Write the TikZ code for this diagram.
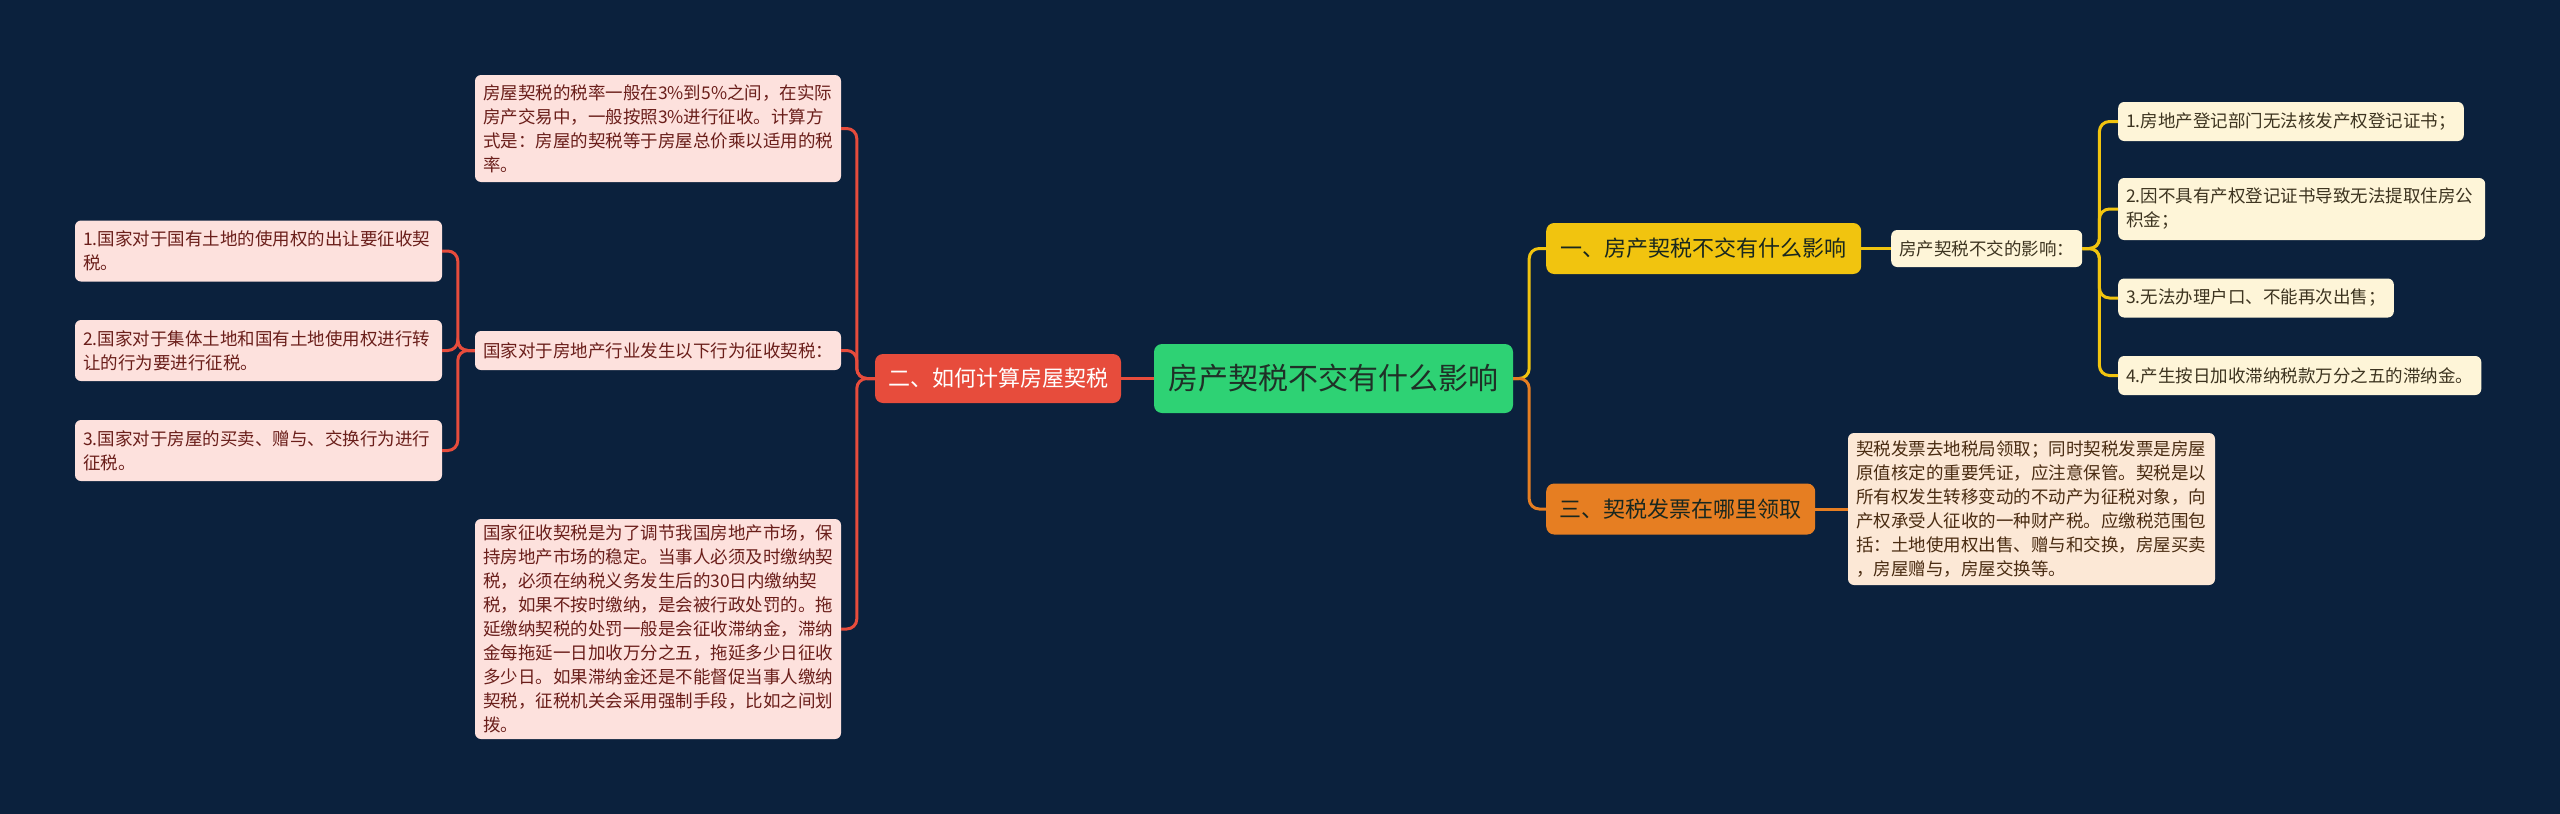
\documentclass[tikz,border=0pt]{standalone}
\usepackage{fontspec}
\newfontfamily\cjk{Noto Sans CJK SC}
\usetikzlibrary{calc}
\definecolor{bg}{HTML}{0B213D}
\definecolor{cgreen}{HTML}{2ED274}
\definecolor{cred}{HTML}{E74C3C}
\definecolor{cyellow}{HTML}{F1C40F}
\definecolor{corange}{HTML}{E67E22}
\definecolor{pinkfill}{HTML}{FDE1DD}
\definecolor{pinktext}{HTML}{6A1E1A}
\definecolor{creamfill}{HTML}{FEF5D8}
\definecolor{creamtext}{HTML}{3D3420}
\definecolor{peachfill}{HTML}{FCE8D6}
\definecolor{peachtext}{HTML}{4A2C12}
\definecolor{darktext}{HTML}{1F3027}
\begin{document}
\begin{tikzpicture}[x=1pt,y=-1pt,
  base/.style={rounded corners=6pt, inner ysep=0pt, inner xsep=8pt, align=left},
  small/.style={font=\cjk\fontsize{17.5}{24}\selectfont},
  pinkbox/.style={base, small, fill=pinkfill, text=pinktext},
  creambox/.style={base, small, fill=creamfill, text=creamtext, minimum height=39pt},
  peachbox/.style={base, small, fill=peachfill, text=peachtext},
  mainbox/.style={rounded corners=8pt, inner sep=0pt, align=center, font=\cjk\fontsize{22}{26}\selectfont, minimum height=51pt},
  rootbox/.style={rounded corners=8pt, inner sep=0pt, fill=cgreen, text=darktext, font=\cjk\fontsize{30}{34}\selectfont},
  redline/.style={draw=cred, line width=3pt, rounded corners=10pt},
  yline/.style={draw=cyellow, line width=3pt, rounded corners=10pt},
  oline/.style={draw=corange, line width=3pt, rounded corners=10pt}
]
\fill[bg] (0,0) rectangle (2560,814);
\useasboundingbox (0,0) rectangle (2560,814);

% root
\node[rootbox, minimum width=359pt, minimum height=69pt] (root) at (1333.5,378.5) {房产契税不交有什么影响};

% left branch
\node[mainbox, fill=cred, text=white, minimum width=246pt, minimum height=49pt] (two) at (998,378.5) {二、如何计算房屋契税};

\node[pinkbox, text width=350pt, minimum height=107pt] (A) at (658,128.5) {房屋契税的税率一般在3\%到5\%之间，在实际\\房产交易中，一般按照3\%进行征收。计算方\\式是：房屋的契税等于房屋总价乘以适用的税\\率。};
\node[pinkbox, text width=350pt, minimum height=39pt] (B) at (658,350.5) {国家对于房地产行业发生以下行为征收契税：};
\node[pinkbox, text width=350pt, minimum height=220pt] (C) at (658,629) {国家征收契税是为了调节我国房地产市场，保\\持房地产市场的稳定。当事人必须及时缴纳契\\税，必须在纳税义务发生后的30日内缴纳契\\税，如果不按时缴纳，是会被行政处罚的。拖\\延缴纳契税的处罚一般是会征收滞纳金，滞纳\\金每拖延一日加收万分之五，拖延多少日征收\\多少日。如果滞纳金还是不能督促当事人缴纳\\契税，征税机关会采用强制手段，比如之间划\\拨。};

\node[pinkbox, text width=351pt, minimum height=61pt] (L1) at (258.5,251) {1.国家对于国有土地的使用权的出让要征收契\\税。};
\node[pinkbox, text width=351pt, minimum height=61pt] (L2) at (258.5,350.5) {2.国家对于集体土地和国有土地使用权进行转\\让的行为要进行征税。};
\node[pinkbox, text width=351pt, minimum height=61pt] (L3) at (258.5,450.5) {3.国家对于房屋的买卖、赠与、交换行为进行\\征税。};

% right branch
\node[mainbox, fill=cyellow, text=darktext!80!black, minimum width=315pt, anchor=west] (one) at (1546,248.5) {一、房产契税不交有什么影响};
\node[mainbox, fill=corange, text=darktext!80!black, minimum width=269pt, anchor=west] (three) at (1546,509) {三、契税发票在哪里领取};

\node[creambox, anchor=west, minimum height=37pt] (eff) at (1891,248.5) {房产契税不交的影响：};
\node[creambox, anchor=west] (R1) at (2118,121.5) {1.房地产登记部门无法核发产权登记证书；};
\node[creambox, text width=351pt, minimum height=62pt, anchor=west] (R2) at (2118,209) {2.因不具有产权登记证书导致无法提取住房公\\积金；};
\node[creambox, anchor=west] (R3) at (2118,298) {3.无法办理户口、不能再次出售；};
\node[creambox, anchor=west] (R4) at (2118,375.5) {4.产生按日加收滞纳税款万分之五的滞纳金。};

\node[peachbox, text width=351pt, minimum height=152pt] (P) at (2031.5,509) {契税发票去地税局领取；同时契税发票是房屋\\原值核定的重要凭证，应注意保管。契税是以\\所有权发生转移变动的不动产为征税对象，向\\产权承受人征收的一种财产税。应缴税范围包\\括：土地使用权出售、赠与和交换，房屋买卖\\，房屋赠与，房屋交换等。};

% connectors left
\draw[redline] (root.west) -- (two.east);
\draw[redline] (two.west) -- ++(-18,0) |- (A.east);
\draw[redline] (two.west) -- ++(-18,0) |- (B.east);
\draw[redline] (two.west) -- ++(-18,0) |- (C.east);
\draw[redline] (B.west) -- ++(-17,0) |- (L1.east);
\draw[redline] (B.west) -- ++(-17,0) |- (L2.east);
\draw[redline] (B.west) -- ++(-17,0) |- (L3.east);

% connectors right
\draw[yline] (root.east) -- ++(16,0) |- (one.west);
\draw[oline] (root.east) -- ++(16,0) |- (three.west);
\draw[yline] (one.east) -- (eff.west);
\draw[yline] (eff.east) -- ++(17,0) |- (R1.west);
\draw[yline] (eff.east) -- ++(17,0) |- (R2.west);
\draw[yline] (eff.east) -- ++(17,0) |- (R3.west);
\draw[yline] (eff.east) -- ++(17,0) |- (R4.west);
\draw[oline] (three.east) -- (P.west);
\end{tikzpicture}
\end{document}
